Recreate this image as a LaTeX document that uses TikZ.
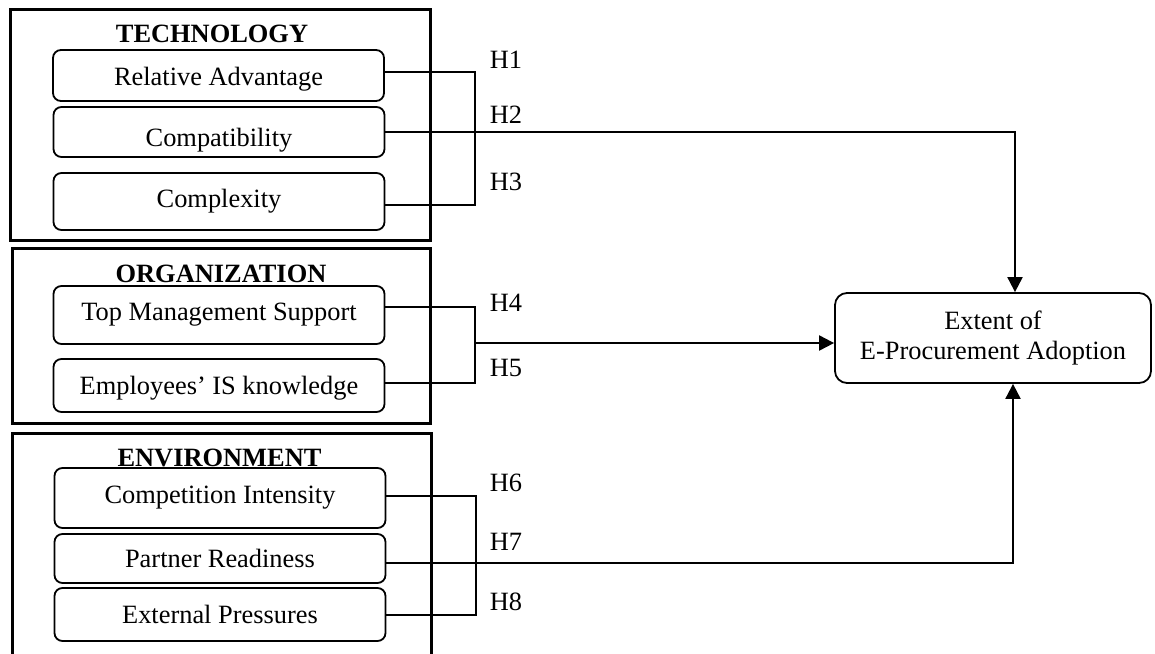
\documentclass[tikz,border=0pt]{standalone}
\usepackage{fontspec}
\setmainfont{Liberation Serif}
\usetikzlibrary{arrows.meta}

\begin{document}
\fontsize{13.2}{15}\selectfont
\begin{tikzpicture}[x=0.5pt, y=-0.5pt,
    factor/.style={draw, line width=0.9pt, rounded corners=4pt, minimum width=165.5pt, inner sep=0pt},
    group/.style={line width=1.5pt},
    title/.style={font=\bfseries, inner sep=0pt},
    hyp/.style={inner sep=0pt},
    link/.style={line width=1pt},
    arrow/.style={link, -{Triangle[length=7.5pt, width=7.5pt]}}]

            \useasboundingbox (0,0) rectangle (1155,653);

            \draw[group] (10,9) rectangle (430,240);
            \draw[group] (12,248) rectangle (430,423);
            \draw[group] (12,660) -- (12,433) -- (431,433) -- (431,660);

            \node[title] (tech) at (212,33.5) {TECHNOLOGY};
            \node[factor, minimum height=25.5pt, text height=12.5pt, text depth=3pt] (rel) at (218.5,75.5) {Relative Advantage};
            \node[factor, minimum height=25pt, text height=17pt, text depth=3pt] (comp) at (219,132) {Compatibility};
            \node[factor, minimum height=28.5pt] (cplx) at (219,201.5) {Complexity};

            \node[title] (org) at (221,273.5) {ORGANIZATION};
            \node[factor, minimum height=29pt] (tms) at (219,315) {Top Management Support};
            \node[factor, minimum height=26.5pt, text height=12pt, text depth=3pt] (emp) at (219,385.5) {Employees' IS knowledge};

            \node[title] (env) at (219.5,457.5) {ENVIRONMENT};
            \node[factor, minimum height=30pt] (ci) at (220,498) {Competition Intensity};
            \node[factor, minimum height=24.5pt, text height=12pt, text depth=3pt] (pr) at (220,558.5) {Partner Readiness};
            \node[factor, minimum height=26.5pt] (ep) at (220,614.5) {External Pressures};

            \node[draw, line width=0.9pt, rounded corners=6pt, minimum width=158pt, minimum height=45pt, align=center] (ext) at (993,338) {Extent of\\E-Procurement Adoption};

            \node[hyp] (h1) at (506,60) {H1};
            \node[hyp] (h2) at (506,115) {H2};
            \node[hyp] (h3) at (506,182) {H3};
            \node[hyp] (h4) at (506,303) {H4};
            \node[hyp] (h5) at (506,368) {H5};
            \node[hyp] (h6) at (506,483) {H6};
            \node[hyp] (h7) at (506,542) {H7};
            \node[hyp] (h8) at (506,602) {H8};

            \coordinate (jo) at (474,343);

            \draw[link] ([yshift=1.75pt]rel.east) -- ++(90,0) |- ([yshift=-1.75pt]cplx.east);
            \draw[arrow] (comp.east) -| ([xshift=11pt]ext.north);

            \draw[link] ([yshift=4pt]tms.east) -- ++(90,0) |- ([yshift=1.25pt]emp.east);
            \draw[arrow] (jo) -- (jo -| ext.west);

            \draw[link] ([yshift=1pt]ci.east) -- ++(90,0) |- (ep.east);
            \draw[arrow] ([yshift=-2.25pt]pr.east) -| ([xshift=10pt]ext.south);

        \end{tikzpicture}
\end{document}
